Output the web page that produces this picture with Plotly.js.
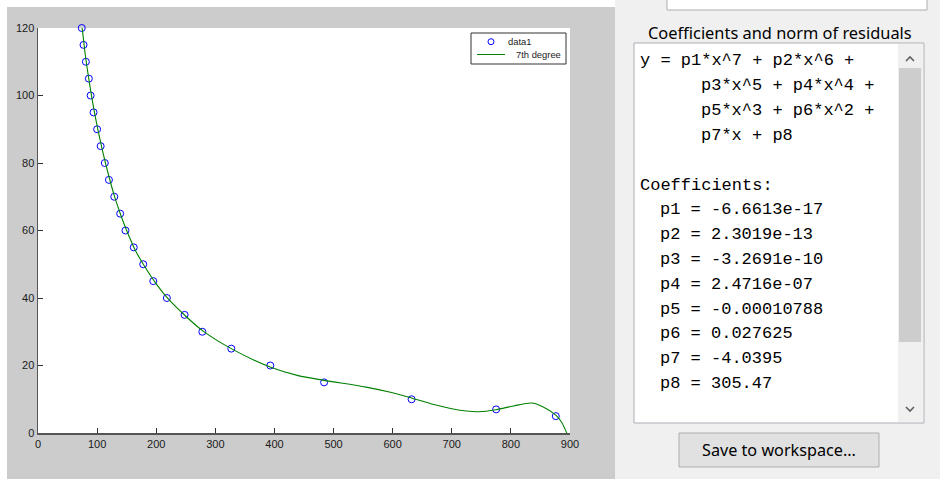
<!DOCTYPE html>
<html>
<head>
<meta charset="utf-8">
<script src="https://cdn.plot.ly/plotly-3.0.1.min.js"></script>
<style>
  html, body { margin: 0; padding: 0; background: #ffffff; }
  #chart { width: 940px; height: 479px; }
</style>
</head>
<body>
<div id="chart"></div>
<script>
// ---- data ----
const dataX = [74, 77, 81, 86, 89, 94, 100, 106, 113, 120, 129, 139, 148, 162, 178, 195, 218, 248, 278, 327, 393, 484, 632, 775, 876];
const dataY = [120, 115, 110, 105, 100, 95, 90, 85, 80, 75, 70, 65, 60, 55, 50, 45, 40, 35, 30, 25, 20, 15, 10, 7, 5];

const fitX = [72, 75, 80, 85, 90, 95, 100, 110, 120, 130, 140, 150, 165, 180, 200, 220, 250, 280, 330, 395, 440, 484, 555, 600, 633, 668, 700, 725, 745, 775, 804, 835, 854, 876, 885, 892, 900];
const fitY = [122.5, 119.5, 112, 106, 100.5, 95.5, 91, 83, 76, 69.8, 64.6, 60, 54, 49.5, 44.2, 39.8, 34.6, 30.1, 24.7, 19.4, 17.0, 15.6, 13.6, 11.9, 10.3, 8.5, 7.2, 6.5, 6.3, 6.9, 8.0, 8.9, 7.8, 5.3, 3.4, 1.0, -2.5];

const xTicks = [0, 100, 200, 300, 400, 500, 600, 700, 800, 900];
const yTicks = [0, 20, 40, 60, 80, 100, 120];

const seriesNames = ["data1", "7th degree"];

const panelTitle = "Coefficients and norm of residuals";
const panelLines = [
  "y = p1*x^7 + p2*x^6 +",
  "      p3*x^5 + p4*x^4 +",
  "      p5*x^3 + p6*x^2 +",
  "      p7*x + p8",
  "",
  "Coefficients:",
  "  p1 = -6.6613e-17",
  "  p2 = 2.3019e-13",
  "  p3 = -3.2691e-10",
  "  p4 = 2.4716e-07",
  "  p5 = -0.00010788",
  "  p6 = 0.027625",
  "  p7 = -4.0395",
  "  p8 = 305.47"
];
const buttonLabel = "Save to workspace...";

// ---- pixel helpers (margins are 0, so paper coords = figure fractions) ----
const W = 940, H = 479;
const px = v => v / W;
const py = v => 1 - v / H;

function rect(x0, y0, x1, y1, fill, line, lw, layer) {
  return {type: 'rect', xref: 'paper', yref: 'paper', layer: layer || 'below',
    x0: px(x0), x1: px(x1), y0: py(y1), y1: py(y0),
    fillcolor: fill, line: {color: line || fill, width: lw === undefined ? 0 : lw}};
}
function path(d, color, w) {
  return {type: 'path', xref: 'paper', yref: 'paper', layer: 'above',
    path: d, line: {color: color, width: w}};
}
function pathPx(points) {
  return points.map((p, i) => (i ? 'L' : 'M') + px(p[0]) + ',' + py(p[1])).join(' ');
}

const BLUE = '#0000ff', GREEN = '#008000';

const shapes = [
  rect(615, -2, 942, 481, '#f0f0f0'),
  rect(7, 7, 615, 481, '#cccccc'),
  rect(38, 28, 570, 433, '#ffffff'),
  rect(667, -3, 927, 10, '#ffffff', '#adadad', 1),
  rect(634, 43, 924, 423, '#ffffff', '#abadb3', 1),
  rect(898, 44, 923, 422, '#f0f0f0'),
  rect(899, 68, 921, 342, '#cdcdcd'),
  rect(679, 433, 879, 467, '#e1e1e1', '#adadad', 1),
  path(pathPx([[906, 61], [910, 57], [914, 61]]), '#606060', 1.6),
  path(pathPx([[906, 407], [910, 411], [914, 407]]), '#606060', 1.6),
  // legend box (MATLAB style)
  rect(471, 33, 566, 64, '#ffffff', '#333333', 1, 'above'),
  {type: 'circle', xref: 'paper', yref: 'paper', layer: 'above',
   x0: px(488), x1: px(494), y0: py(44.7), y1: py(38.7), line: {color: BLUE, width: 1}},
  path(pathPx([[477, 54.5], [505, 54.5]]), GREEN, 1)
];

const monoSize = 17, charW = monoSize * 0.6;
const lineY0 = 61, lineStep = 24.8;
const uiFont = 'Noto Sans, Open Sans, sans-serif';
const annotations = [];
annotations.push({xref: 'paper', yref: 'paper', x: px(780), y: py(32), xanchor: 'center', yanchor: 'middle',
  text: panelTitle, showarrow: false, font: {family: uiFont, size: 16.4, color: '#000000'}});
panelLines.forEach((s, i) => {
  if (!s.trim()) return;
  const indent = s.length - s.trimStart().length;
  annotations.push({xref: 'paper', yref: 'paper', x: px(638 + indent * charW), y: py(lineY0 + i * lineStep),
    xanchor: 'left', yanchor: 'middle', text: s.trim(), showarrow: false,
    font: {family: 'Liberation Mono, Courier New, monospace', size: monoSize, color: '#000000'}});
});
annotations.push({xref: 'paper', yref: 'paper', x: px(779), y: py(450), xanchor: 'center', yanchor: 'middle',
  text: buttonLabel, showarrow: false, font: {family: uiFont, size: 16.2, color: '#000000'}});
// legend labels
const legFont = {family: 'Liberation Sans, Arial, sans-serif', size: 9.4, color: '#222222'};
annotations.push({xref: 'paper', yref: 'paper', x: px(506), y: py(41.7), xanchor: 'left', yanchor: 'middle',
  text: seriesNames[0], showarrow: false, font: legFont});
annotations.push({xref: 'paper', yref: 'paper', x: px(514), y: py(54.5), xanchor: 'left', yanchor: 'middle',
  text: seriesNames[1], showarrow: false, font: legFont});

const traces = [
  {x: dataX, y: dataY, name: seriesNames[0], type: 'scatter', mode: 'markers', cliponaxis: false,
   showlegend: false,
   marker: {symbol: 'circle-open', size: 7, color: BLUE, line: {width: 1, color: BLUE}}},
  {x: fitX, y: fitY, name: seriesNames[1], type: 'scatter', mode: 'lines', cliponaxis: true,
   showlegend: false,
   line: {color: GREEN, width: 1.1, shape: 'spline', smoothing: 0.8}}
];

const tickFont = {family: 'Liberation Sans, Arial, sans-serif', size: 11, color: '#1a1a1a'};
const layout = {
  width: W, height: H,
  margin: {l: 0, r: 0, t: 0, b: 0, pad: 0},
  paper_bgcolor: '#ffffff',
  plot_bgcolor: 'rgba(0,0,0,0)',
  showlegend: false,
  xaxis: {domain: [px(38), px(570)], range: [0, 900], tickvals: xTicks, ticktext: xTicks.map(String),
    ticks: 'inside', ticklen: 5, tickwidth: 1, tickcolor: '#333333',
    showline: true, linecolor: '#555555', linewidth: 1.5, mirror: false,
    showgrid: false, zeroline: false, tickfont: tickFont, fixedrange: true, automargin: false},
  yaxis: {domain: [py(433), py(28)], range: [0, 120], tickvals: yTicks, ticktext: yTicks.map(String),
    ticks: 'inside', ticklen: 5, tickwidth: 1, tickcolor: '#333333',
    showline: true, linecolor: '#555555', linewidth: 1.5, mirror: false,
    showgrid: false, zeroline: false, tickfont: tickFont, fixedrange: true, automargin: false},
  shapes: shapes,
  annotations: annotations
};

Plotly.newPlot('chart', traces, layout, {displayModeBar: false, staticPlot: true});
</script>
</body>
</html>
